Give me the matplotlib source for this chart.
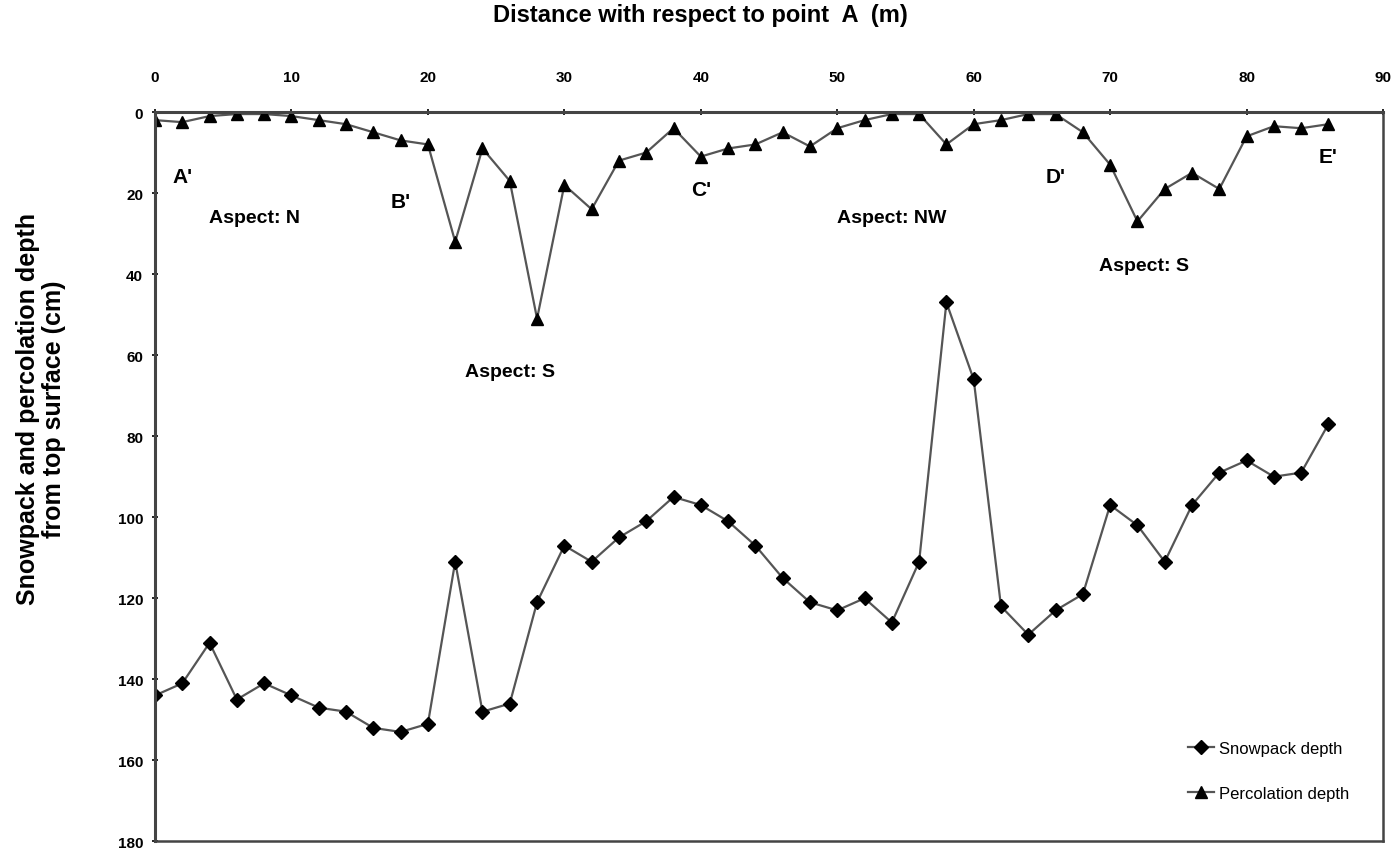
import matplotlib
matplotlib.use('Agg')
import matplotlib.pyplot as plt

plt.rcParams['font.family'] = ['Liberation Sans', 'DejaVu Sans']

distance = list(range(0, 88, 2))
snowpack_depth = [144, 141, 131, 145, 141, 144, 147, 148, 152, 153, 151, 111,
                  148, 146, 121, 107, 111, 105, 101, 95, 97, 101, 107, 115,
                  121, 123, 120, 126, 111, 47, 66, 122, 129, 123, 119, 97,
                  102, 111, 97, 89, 86, 90, 89, 77]
percolation_depth = [2, 2.5, 1, 0.5, 0.5, 1, 2, 3, 5, 7, 8, 32,
                     9, 17, 51, 18, 24, 12, 10, 4, 11, 9, 8, 5,
                     8.5, 4, 2, 0.5, 0.5, 8, 3, 2, 0.5, 0.5, 5, 13,
                     27, 19, 15, 19, 6, 3.5, 4, 3]

point_labels = ["A'", "B'", "C'", "D'", "E'"]
point_pos = [(2, 16), (18, 22), (40, 19), (66, 16), (86, 11)]
aspect_labels = ["Aspect: N", "Aspect: S", "Aspect: NW", "Aspect: S"]
aspect_pos = [(7.3, 26), (26, 64), (54, 26), (72.5, 38)]

fig = plt.figure(figsize=(14, 8.53), dpi=100)
ax = fig.add_axes([0.1107, 0.0125, 0.8772, 0.855])

ax.plot(distance, snowpack_depth, color='#555555', linewidth=1.6,
        marker='D', markersize=7.5, markerfacecolor='black',
        markeredgecolor='black', label='Snowpack depth')
ax.plot(distance, percolation_depth, color='#555555', linewidth=1.6,
        marker='^', markersize=8, markerfacecolor='black',
        markeredgecolor='black', label='Percolation depth')

ax.set_xlim(0, 90)
ax.set_ylim(180, 0)
ax.set_xticks(range(0, 91, 10))
ax.set_yticks(range(0, 181, 20))
ax.xaxis.tick_top()
ax.xaxis.set_label_position('top')
ax.tick_params(axis='both', labelsize=11, width=1.2, length=5, direction='inout')
ax.tick_params(axis='x', pad=18)
ax.tick_params(axis='y', pad=6)
for lbl in ax.get_xticklabels() + ax.get_yticklabels():
    lbl.set_fontweight('bold')

for side in ['top', 'bottom', 'left', 'right']:
    ax.spines[side].set_color('#444444')
    ax.spines[side].set_linewidth(2.2 if side in ('top', 'left') else 1.8)

for txt, (x, y) in zip(point_labels, point_pos):
    ax.text(x, y, txt, fontsize=15, fontweight='bold', ha='center', va='center')
for txt, (x, y) in zip(aspect_labels, aspect_pos):
    ax.text(x, y, txt, fontsize=14, fontweight='bold', ha='center', va='center')

fig.text(0.5, 0.982, 'Distance with respect to point  A  (m)', fontsize=17,
         fontweight='bold', ha='center', va='center')
fig.text(0.029, 0.52, 'Snowpack and percolation depth\nfrom top surface (cm)',
         fontsize=18, fontweight='bold', ha='center', va='center', rotation=90,
         linespacing=1.1)

leg = ax.legend(loc='lower right', bbox_to_anchor=(0.985, 0.035), frameon=False,
                fontsize=12, handlelength=1.6, labelspacing=1.8, handletextpad=0.3)

fig.savefig('out.png', dpi=100)
